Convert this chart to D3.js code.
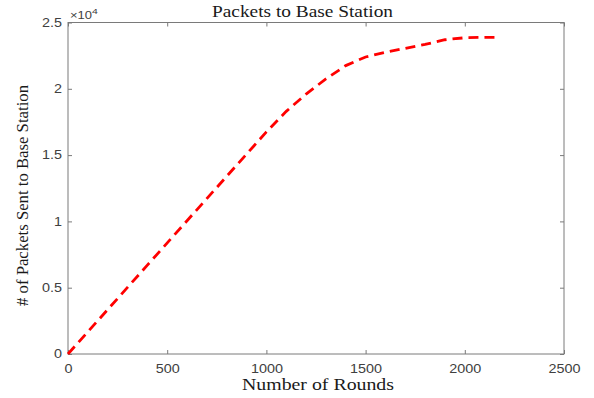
<!DOCTYPE html>
<html>
<head>
<meta charset="utf-8">
<script src="https://d3js.org/d3.v7.min.js"></script>
<style>
  body { margin: 0; background: #fff; }
</style>
</head>
<body>
<div id="chart"></div>
<script>
// Data
const rounds  = [0, 200, 400, 600, 800, 1000, 1100, 1200, 1300, 1400, 1500, 1600, 1700, 1800, 1900, 2000, 2100, 2170];
const packets = [0, 3350, 6700, 10050, 13400, 16750, 18300, 19600, 20750, 21750, 22400, 22750, 23050, 23350, 23700, 23850, 23880, 23880];
const xTicks = [0, 500, 1000, 1500, 2000, 2500];
const yTicks = [0, 5000, 10000, 15000, 20000, 25000];

const width = 594, height = 398;
const margin = { top: 22.5, right: 30, bottom: 44, left: 68 };
const innerW = width - margin.left - margin.right;
const innerH = height - margin.top - margin.bottom;
const axisColor = '#7a7a7a';
const tickText = '#404040';
const serif = 'Liberation Serif, Times New Roman, serif';
const sans = 'Liberation Sans, Arial, sans-serif';

const svg = d3.select('#chart').append('svg')
    .attr('width', width)
    .attr('height', height);

const g = svg.append('g')
    .attr('transform', `translate(${margin.left},${margin.top})`);

const x = d3.scaleLinear().domain([0, 2500]).range([0, innerW]);
const y = d3.scaleLinear().domain([0, 25000]).range([innerH, 0]);

// Box
g.append('rect')
    .attr('width', innerW)
    .attr('height', innerH)
    .attr('fill', 'none')
    .attr('stroke', axisColor)
    .attr('stroke-width', 1);

// Axes (MATLAB style: inward ticks on all four sides)
const styleAxis = (sel, showText) => {
    sel.select('.domain').remove();
    sel.selectAll('.tick line').attr('stroke', axisColor);
    sel.selectAll('.tick text')
        .attr('fill', tickText)
        .attr('font-family', sans)
        .attr('font-size', '12px')
        .attr('transform', 'scale(1.2,1)')
        .style('display', showText ? null : 'none');
};

g.append('g')
    .attr('transform', `translate(0,${innerH})`)
    .call(d3.axisBottom(x).tickValues(xTicks).tickSize(-4).tickPadding(10)
        .tickFormat(d3.format('d')))
    .call(s => styleAxis(s, true));

g.append('g')
    .call(d3.axisTop(x).tickValues(xTicks).tickSize(-4))
    .call(s => styleAxis(s, false));

g.append('g')
    .call(d3.axisLeft(y).tickValues(yTicks).tickSize(-4).tickPadding(5)
        .tickFormat(d => d3.format('~g')(d / 1e4)))
    .call(s => styleAxis(s, true));

g.append('g')
    .attr('transform', `translate(${innerW},0)`)
    .call(d3.axisRight(y).tickValues(yTicks).tickSize(-4))
    .call(s => styleAxis(s, false));

// Exponent label
const expo = svg.append('text')
    .attr('transform', `translate(${margin.left + 2},${margin.top - 4}) scale(1.3,1)`)
    .attr('fill', tickText)
    .attr('font-family', sans)
    .attr('font-size', '10px');
expo.append('tspan').text('\u00d710');
expo.append('tspan').attr('dy', -5).attr('font-size', '8px').text('4');

// Line
const line = d3.line()
    .x((d, i) => x(rounds[i]))
    .y(d => y(d));

g.append('path')
    .datum(packets)
    .attr('d', line)
    .attr('fill', 'none')
    .attr('stroke', '#ff0000')
    .attr('stroke-width', 2.8)
    .attr('stroke-dasharray', '10,6');

// Title and axis labels
svg.append('text')
    .attr('x', 302.5)
    .attr('y', 17)
    .attr('text-anchor', 'middle')
    .attr('fill', '#1a1a1a')
    .attr('font-family', serif)
    .attr('font-size', '17px')
    .attr('textLength', 181)
    .attr('lengthAdjust', 'spacingAndGlyphs')
    .text('Packets to Base Station');

svg.append('text')
    .attr('x', 318)
    .attr('y', 390)
    .attr('text-anchor', 'middle')
    .attr('fill', '#1a1a1a')
    .attr('font-family', serif)
    .attr('font-size', '16px')
    .attr('textLength', 152)
    .attr('lengthAdjust', 'spacingAndGlyphs')
    .text('Number of Rounds');

svg.append('text')
    .attr('transform', 'translate(28,195.5) rotate(-90)')
    .attr('text-anchor', 'middle')
    .attr('fill', '#1a1a1a')
    .attr('font-family', serif)
    .attr('font-size', '17px')
    .attr('textLength', 221)
    .attr('lengthAdjust', 'spacingAndGlyphs')
    .text('# of Packets Sent to Base Station');
</script>
</body>
</html>
